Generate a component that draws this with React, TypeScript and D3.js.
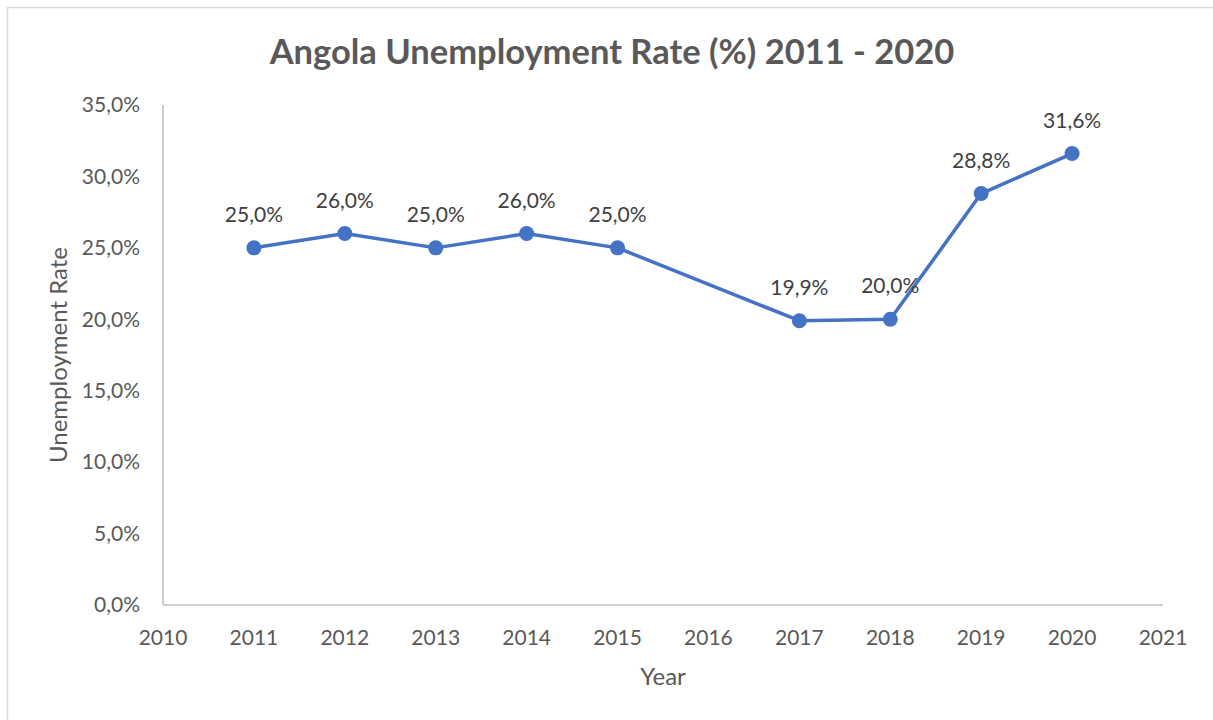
import React from "react";
import * as d3 from "d3";

const years = [2011, 2012, 2013, 2014, 2015, 2017, 2018, 2019, 2020];
const rates = [25.0, 26.0, 25.0, 26.0, 25.0, 19.9, 20.0, 28.8, 31.6];
const xTicks = [2010, 2011, 2012, 2013, 2014, 2015, 2016, 2017, 2018, 2019, 2020, 2021];
const yTicks = [0, 5, 10, 15, 20, 25, 30, 35];
const title = "Angola Unemployment Rate (%) 2011 - 2020";
const xTitle = "Year";
const yTitle = "Unemployment Rate";

const W = 1213;
const H = 720;
const left = 163;
const right = 1163;
const top = 105;
const bottom = 605;
const FONT = "Lato, 'Open Sans', sans-serif";

const fmt = (v: number) => v.toFixed(1).replace(".", ",") + "%";

export default function App() {
  const x = d3.scaleLinear().domain([2010, 2021]).range([left, right]);
  const y = d3.scaleLinear().domain([0, 35]).range([bottom, top]);
  const pts = years.map((yr, i) => [yr, rates[i]] as [number, number]);
  const line = d3
    .line<[number, number]>()
    .x((d) => x(d[0]))
    .y((d) => y(d[1]));

  return (
    <svg
      width={W}
      height={H}
      style={{ position: "absolute", left: 0, top: 0, background: "#fff" }}
      fontFamily={FONT}
    >
      <rect x={7.5} y={7.5} width={W + 20} height={H + 20} fill="#fff" stroke="#d9d9d9" strokeWidth={1.5} />
      <text x={612} y={64} textAnchor="middle" fontSize={34.5} fontWeight={700} fill="#595959">
        {title}
      </text>
      <line x1={left} x2={left} y1={top} y2={bottom} stroke="#bfbfbf" strokeWidth={1.5} />
      <line x1={left} x2={right} y1={bottom} y2={bottom} stroke="#bfbfbf" strokeWidth={1.5} />
      {yTicks.map((t) => (
        <text key={t} x={140} y={y(t)} dy="0.35em" textAnchor="end" fontSize={21} fill="#595959">
          {fmt(t)}
        </text>
      ))}
      {xTicks.map((t) => (
        <text key={t} x={x(t)} y={645} textAnchor="middle" fontSize={21} fill="#595959">
          {t}
        </text>
      ))}
      <text x={663} y={685} textAnchor="middle" fontSize={24} fill="#595959">
        {xTitle}
      </text>
      <text
        transform={`translate(67,355) rotate(-90)`}
        textAnchor="middle"
        fontSize={24}
        fill="#595959"
      >
        {yTitle}
      </text>
      <path d={line(pts) || ""} fill="none" stroke="#4472C4" strokeWidth={3.5} strokeLinejoin="round" />
      {pts.map((p, i) => (
        <circle key={i} cx={x(p[0])} cy={y(p[1])} r={7.5} fill="#4472C4" />
      ))}
      {pts.map((p, i) => (
        <text key={"l" + i} x={x(p[0])} y={y(p[1]) - 26} textAnchor="middle" fontSize={21} fill="#404040">
          {fmt(p[1])}
        </text>
      ))}
    </svg>
  );
}
